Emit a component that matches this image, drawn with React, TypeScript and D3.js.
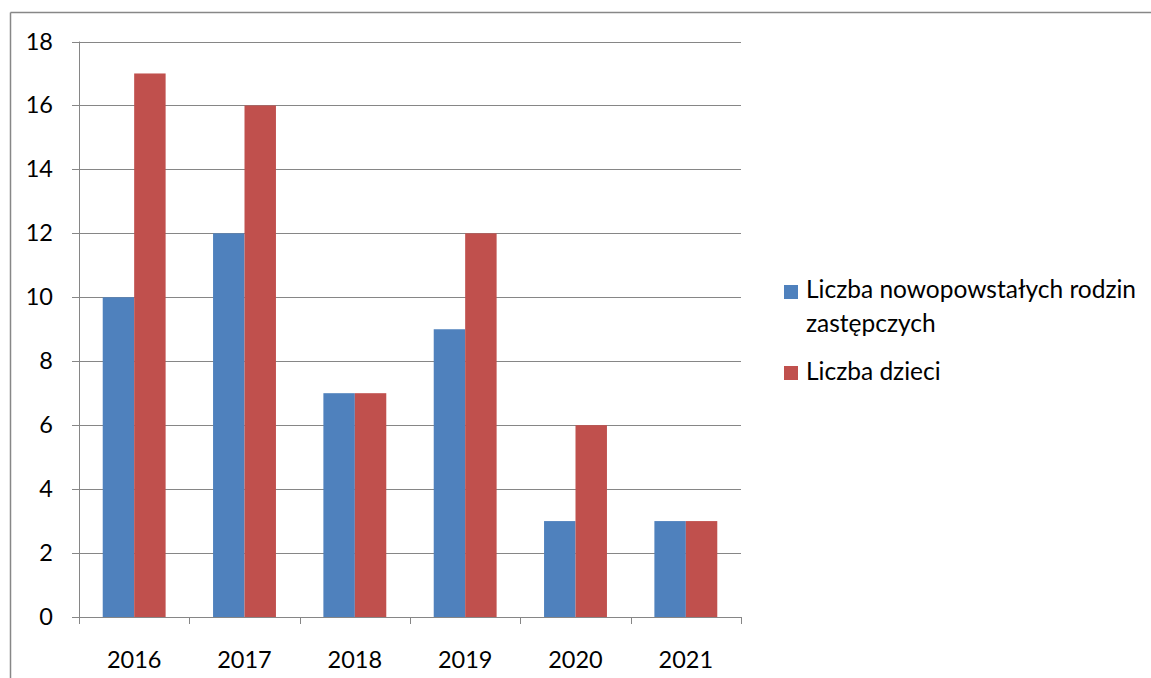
import React from "react";
import * as d3 from "d3";

const categories = ["2016", "2017", "2018", "2019", "2020", "2021"];
const seriesNames = ["Liczba nowopowstałych rodzin zastępczych", "Liczba dzieci"];
const families = [10, 12, 7, 9, 3, 3];
const children = [17, 16, 7, 12, 6, 3];
const yTicks = [0, 2, 4, 6, 8, 10, 12, 14, 16, 18];
const colors = ["#4F81BD", "#C0504D"];

const W = 1151;
const H = 678;
const plot = { left: 79, right: 741, top: 41.5, bottom: 617 };
const font = "Lato, 'Open Sans', 'Liberation Sans', sans-serif";
const fsTick = 23.5;
const fsLegend = 24.5;

export default function App() {
  const x = d3.scaleBand<string>().domain(categories).range([plot.left, plot.right]).paddingInner(0.43).paddingOuter(0.215);
  const xc = d3.scaleBand<string>().domain(categories).range([plot.left, plot.right]);
  const sub = d3.scaleBand<number>().domain([0, 1]).range([0, x.bandwidth()]);
  const y = d3.scaleLinear().domain([0, 18]).range([plot.bottom, plot.top]);
  const series = [families, children];
  const boundaries = categories.map((c) => xc(c) as number).concat([plot.right]);

  return (
    <svg width={W} height={H} style={{ position: "absolute", left: 0, top: 0, background: "#fff", overflow: "hidden", display: "block" }}>
      <line x1={10.5} x2={W + 10} y1={12.5} y2={12.5} stroke="#878787" strokeWidth={1.5} />
      <line x1={10.5} x2={10.5} y1={12.5} y2={H + 10} stroke="#878787" strokeWidth={1.5} />
      {yTicks.map((t) => (
        <g key={t}>
          <line x1={plot.left - 7} x2={plot.right} y1={Math.round(y(t)) + 0.5} y2={Math.round(y(t)) + 0.5} stroke="#868686" strokeWidth={1} />
          <text x={53} y={y(t) + 8} textAnchor="end" fontFamily={font} fontSize={fsTick} fill="#000">{t}</text>
        </g>
      ))}
      {series.map((vals, si) =>
        categories.map((c, i) => (
          <rect
            key={`${si}-${c}`}
            x={(x(c) as number) + (sub(si) as number)}
            y={y(vals[i])}
            width={sub.bandwidth()}
            height={y(0) - y(vals[i])}
            fill={colors[si]}
          />
        ))
      )}
      <line x1={plot.left + 0.5} x2={plot.left + 0.5} y1={plot.top} y2={plot.bottom + 7} stroke="#868686" />
      <line x1={plot.left} x2={plot.right} y1={Math.round(y(0)) + 0.5} y2={Math.round(y(0)) + 0.5} stroke="#868686" />
      {boundaries.map((b, i) => (
        <line key={i} x1={Math.round(b) + 0.5} x2={Math.round(b) + 0.5} y1={plot.bottom} y2={plot.bottom + 7} stroke="#868686" />
      ))}
      {categories.map((c) => (
        <text key={c} x={(xc(c) as number) + xc.bandwidth() / 2} y={668} textAnchor="middle" fontFamily={font} fontSize={fsTick} fill="#000">{c}</text>
      ))}
      <rect x={784} y={285} width={14} height={14} fill={colors[0]} />
      <text x={806} y={298} fontFamily={font} fontSize={fsLegend} fill="#000">Liczba nowopowstałych rodzin</text>
      <text x={806} y={332} fontFamily={font} fontSize={fsLegend} fill="#000">zastępczych</text>
      <rect x={784} y={366} width={14} height={14} fill={colors[1]} />
      <text x={806} y={380} fontFamily={font} fontSize={fsLegend} fill="#000">{seriesNames[1]}</text>
    </svg>
  );
}
